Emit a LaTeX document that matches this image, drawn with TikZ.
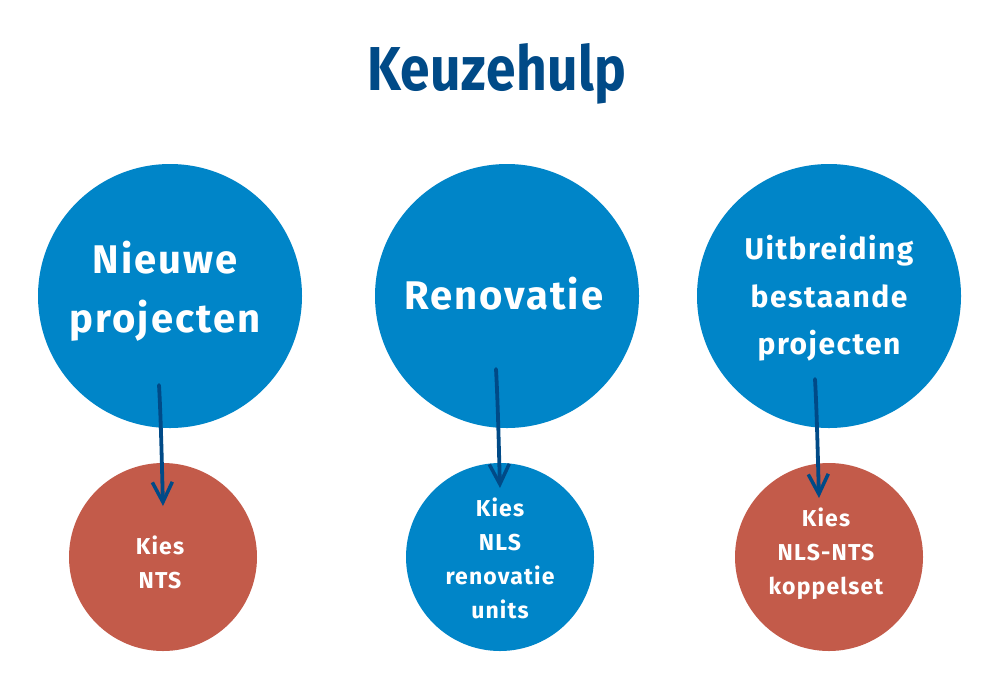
\documentclass[tikz,border=0pt]{standalone}
\usepackage{fontspec}
\usepackage{graphicx}
\setmainfont{Fira Sans}[LetterSpace=5]
\newfontfamily\titlefont{Fira Sans}[LetterSpace=1]
\usetikzlibrary{arrows.meta}
\definecolor{bigblue}{HTML}{0085C8}
\definecolor{darkblue}{HTML}{004A87}
\definecolor{brick}{HTML}{C35B4A}
\begin{document}
\begin{tikzpicture}[x=1pt,y=-1pt,
  bigc/.style={circle,fill=bigblue,minimum size=264pt,inner sep=0pt},
  smallc/.style={circle,minimum size=188pt,inner sep=0pt},
  bigtxt/.style={text=white,font=\bfseries\fontsize{40}{59}\selectfont,align=center,inner sep=0pt},
  midtxt/.style={text=white,font=\bfseries\fontsize{30}{47.5}\selectfont,align=center,inner sep=0pt},
  smalltxt/.style={text=white,font=\bfseries\fontsize{23}{34}\selectfont,align=center,inner sep=0pt},
  flow/.style={draw=darkblue,line width=3.8pt,line cap=round,-{Straight Barb[length=20pt,width=20pt,line width=3.5pt]}}]
\useasboundingbox (0,0) rectangle (1000,686);
\fill[white] (0,0) rectangle (1000,686);
\node[anchor=base,text=darkblue,font=\titlefont\bfseries\fontsize{62}{70}\selectfont,inner sep=0pt] (title) at (497,90) {\scalebox{0.86}[1]{Keuzehulp}};
% big circles
\node[bigc] (c1) at (170,296) {};
\node[bigc] (c2) at (507,296) {};
\node[bigc] (c3) at (829,296) {};
% small circles
\node[smallc,fill=brick] (s1) at (163,557) {};
\node[smallc,fill=bigblue] (s2) at (500,557) {};
\node[smallc,fill=brick] (s3) at (829,557) {};
% texts
\node[bigtxt] (t1) at (165,291.5) {Nieuwe\\projecten};
\node[bigtxt,anchor=base] (t2) at (504,309) {Renovatie};
\node[midtxt] (t3) at (829,298.5) {Uitbreiding\\bestaande\\projecten};
\node[smalltxt] (u1) at (160,562.5) {Kies\\NTS};
\node[smalltxt] (u2) at (500,558.5) {Kies\\NLS\\renovatie\\units};
\node[smalltxt] (u3) at (826,553.5) {Kies\\NLS-NTS\\koppelset};
% arrows
\coordinate (a1s) at (159,385);
\coordinate (a1e) at (163,506);
\coordinate (a2s) at (496,369);
\coordinate (a2e) at (500,488);
\coordinate (a3s) at (815,379);
\coordinate (a3e) at (819,498);
\draw[flow] (a1s) .. controls (161,420) and (162,470) .. (a1e);
\draw[flow] (a2s) .. controls (498,405) and (499,455) .. (a2e);
\draw[flow] (a3s) .. controls (817,415) and (818,465) .. (a3e);
\end{tikzpicture}
\end{document}
